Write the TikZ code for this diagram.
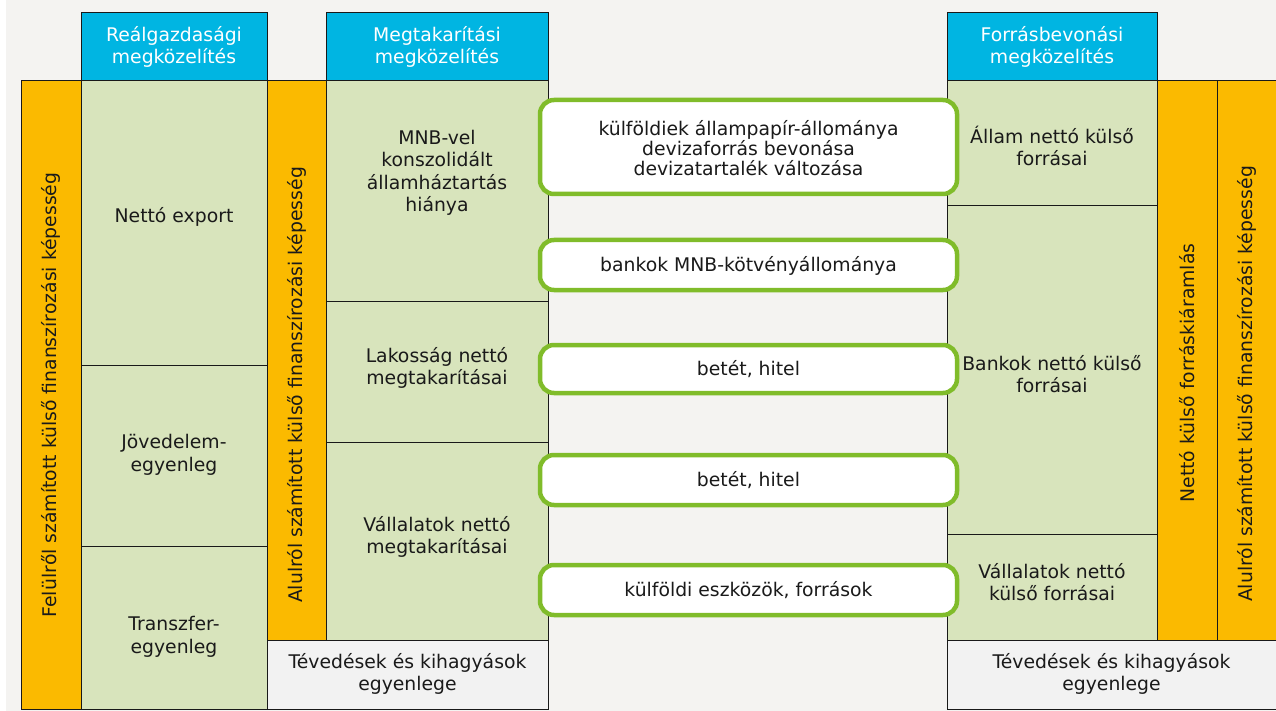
\documentclass[tikz,border=0pt]{standalone}
\usepackage{fontspec}
\setmainfont{DejaVu Sans}
\definecolor{bgc}{HTML}{F4F3F1}
\definecolor{hdr}{HTML}{00B5E2}
\definecolor{org}{HTML}{FBBA00}
\definecolor{grn}{HTML}{D8E4BC}
\definecolor{gry}{HTML}{F2F2F2}
\definecolor{lime}{HTML}{80BC2A}
\definecolor{ink}{HTML}{1A1A1A}
\newcommand{\fs}{\fontsize{18.8}{22.5}\selectfont}
\begin{document}
\begin{tikzpicture}[x=1pt,y=-1pt,
  cellbox/.style={draw=black!90, line width=1pt, inner sep=0pt, outer sep=0pt},
  hdrbox/.style={cellbox, fill=hdr},
  orgbox/.style={cellbox, fill=org},
  grnbox/.style={cellbox, fill=grn},
  grybox/.style={cellbox, fill=gry},
  flowbox/.style={draw=lime, line width=4.5pt, fill=white, rounded corners=14pt, inner sep=0pt},
  txt/.style={inner sep=0pt, align=center, text=ink, font=\fs},
  htxt/.style={txt, text=white},
  vtxt/.style={txt, rotate=90}]
\fill[white] (0,0) rectangle (1276,711);
\fill[bgc] (6,0) rectangle (1276,711);
\useasboundingbox (0,0) rectangle (1276,711);
% headers
\node[hdrbox, minimum width=186pt, minimum height=68pt] (hR) at (174,47) {};
\node[hdrbox, minimum width=222pt, minimum height=68pt] (hM) at (437,47) {};
\node[hdrbox, minimum width=210pt, minimum height=68pt] (hF) at (1052,47) {};
% orange columns
\node[orgbox, minimum width=60pt, minimum height=628pt] (o1) at (51,395) {};
\node[orgbox, minimum width=59pt, minimum height=559pt] (o2) at (296.5,360.5) {};
\node[orgbox, minimum width=60pt, minimum height=559pt] (o3) at (1187,360.5) {};
\node[orgbox, minimum width=59pt, minimum height=559pt] (o4) at (1246.5,360.5) {};
% column 1
\node[grnbox, minimum width=186pt, minimum height=284pt] (c1a) at (174,223) {};
\node[grnbox, minimum width=186pt, minimum height=181pt] (c1b) at (174,455.5) {};
\node[grnbox, minimum width=186pt, minimum height=163pt] (c1c) at (174,627.5) {};
% column 2
\node[grnbox, minimum width=222pt, minimum height=220pt] (c2a) at (437,191) {};
\node[grnbox, minimum width=222pt, minimum height=141pt] (c2b) at (437,371.5) {};
\node[grnbox, minimum width=222pt, minimum height=198pt] (c2c) at (437,541) {};
\node[grybox, minimum width=281pt, minimum height=69pt] (t1) at (407.5,674.5) {};
% column 3
\node[grnbox, minimum width=210pt, minimum height=125pt] (c3a) at (1052,143.5) {};
\node[grnbox, minimum width=210pt, minimum height=328pt] (c3b) at (1052,370) {};
\node[grnbox, minimum width=210pt, minimum height=106pt] (c3c) at (1052,587) {};
\node[grybox, minimum width=329pt, minimum height=69pt] (t2) at (1111.5,674.5) {};
% flow boxes
\node[flowbox, minimum width=417pt, minimum height=94pt] (f1) at (748.5,147) {};
\node[flowbox, minimum width=417pt, minimum height=50pt] (f2) at (748.5,265) {};
\node[flowbox, minimum width=417pt, minimum height=48pt] (f3) at (748.5,369) {};
\node[flowbox, minimum width=417pt, minimum height=50pt] (f4) at (748.5,480) {};
\node[flowbox, minimum width=417pt, minimum height=50pt] (f5) at (748.5,590) {};
% texts
\node[htxt] (thR) at (174,47) {Reálgazdasági\\megközelítés};
\node[htxt] (thM) at (437,47) {Megtakarítási\\megközelítés};
\node[htxt] (thF) at (1052,47) {Forrásbevonási\\megközelítés};
\node[vtxt] (to1) at (51,395) {Felülről számított külső finanszírozási képesség};
\node[vtxt] (to2) at (296.5,385) {Alulról számított külső finanszírozási képesség};
\node[vtxt] (to3) at (1187,373) {Nettó külső forráskiáramlás};
\node[vtxt] (to4) at (1246.5,384) {Alulról számított külső finanszírozási képesség};
\node[txt] (tc1a) at (174,217) {Nettó export};
\node[txt] (tc1b) at (174,455) {Jövedelem-\\egyenleg};
\node[txt] (tc1c) at (174,637) {Transzfer-\\egyenleg};
\node[txt] (tc2a) at (437,173) {MNB-vel\\konszolidált\\államháztartás\\hiánya};
\node[txt] (tc2b) at (437,368) {Lakosság nettó\\megtakarításai};
\node[txt] (tc2c) at (437,537) {Vállalatok nettó\\megtakarításai};
\node[txt] (tt1) at (407.5,674) {Tévedések és kihagyások\\egyenlege};
\node[txt] (tc3a) at (1052,146) {Állam nettó külső\\forrásai};
\node[txt] (tc3b) at (1052,374) {Bankok nettó külső\\forrásai};
\node[txt] (tc3c) at (1052,582) {Vállalatok nettó\\külső forrásai};
\node[txt] (tt2) at (1111.5,674) {Tévedések és kihagyások\\egyenlege};
\node[txt, font=\fontsize{18.8}{20}\selectfont] (tf1) at (748.5,148) {külföldiek állampapír-állománya\\devizaforrás bevonása\\devizatartalék változása};
\node[txt] (tf2) at (748.5,266) {bankok MNB-kötvényállománya};
\node[txt] (tf3) at (748.5,369) {betét, hitel};
\node[txt] (tf4) at (748.5,480) {betét, hitel};
\node[txt] (tf5) at (748.5,590) {külföldi eszközök, források};
\end{tikzpicture}
\end{document}
